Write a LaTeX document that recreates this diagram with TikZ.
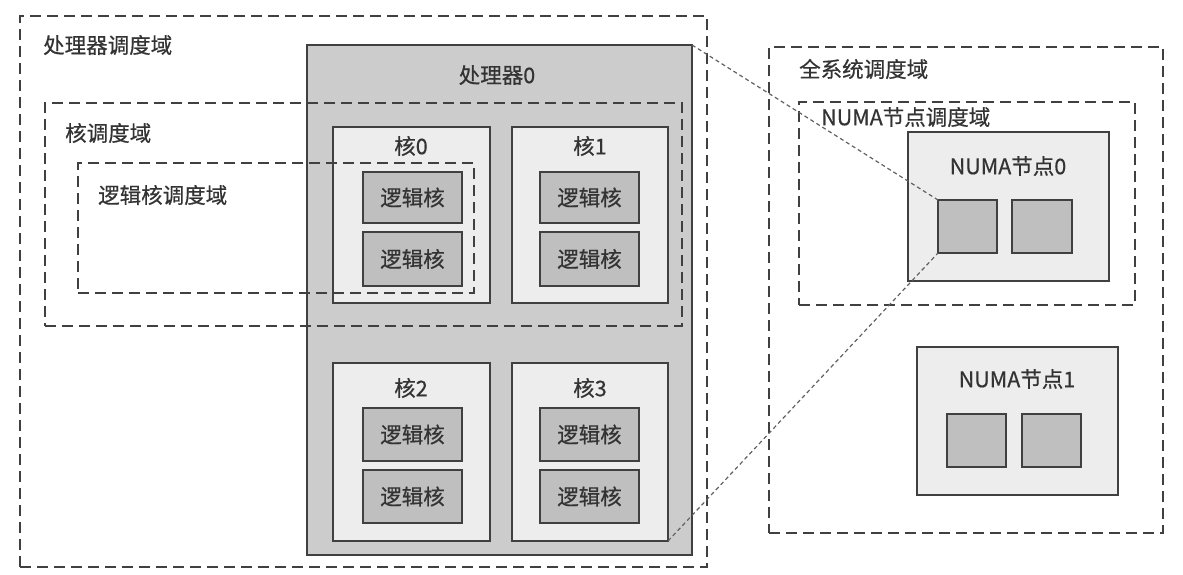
\documentclass[tikz,border=0pt]{standalone}
\usepackage{fontspec}
\setmainfont{Noto Sans CJK SC}[UprightFeatures={FakeBold=0.6}]
\tikzset{
 solidbox/.style={draw=black!75, line width=2pt, inner sep=0pt, outer sep=0pt},
 procbox/.style={solidbox, fill=black!20},
 corebox/.style={solidbox, fill=black!7},
 lcorebox/.style={solidbox, fill=black!25},
 domainbox/.style={draw=black!75, line width=2.4pt, dash pattern=on 11pt off 6pt, inner sep=0pt, outer sep=0pt},
 zoomline/.style={draw=black!62, line width=1.2pt, dash pattern=on 4pt off 3pt},
 lbl/.style={font=\fontsize{21.5}{25}\selectfont, text=black!80, inner sep=0pt},
}
% name, style, x1, y1, x2, y2, text
\newcommand\rbox[7]{\node[#2, minimum width={(#5-#3)*1pt}, minimum height={(#6-#4)*1pt}] (#1) at ({(#3+#5)/2},{(#4+#6)/2}) {#7};}
\begin{document}
\begin{tikzpicture}[x=1pt,y=-1pt]
\useasboundingbox (0,0) rectangle (1183,574);
% processor
\rbox{proc}{procbox}{307}{45}{692}{555}{}
\node[lbl] (proclbl) at (497,75) {处理器0};
% cores
\rbox{c0}{corebox}{333}{127}{490}{303}{}
\rbox{c1}{corebox}{512}{127}{668}{303}{}
\rbox{c2}{corebox}{333}{363}{490}{541}{}
\rbox{c3}{corebox}{512}{363}{668}{541}{}
\node[lbl] (c0l) at (411,146) {核0};
\node[lbl] (c1l) at (590,146) {核1};
\node[lbl] (c2l) at (411,388) {核2};
\node[lbl] (c3l) at (590,388) {核3};
% logical cores
\rbox{l0a}{lcorebox,lbl}{363}{172}{462}{223}{逻辑核}
\rbox{l0b}{lcorebox,lbl}{363}{232}{462}{286}{逻辑核}
\rbox{l1a}{lcorebox,lbl}{540}{172}{639}{223}{逻辑核}
\rbox{l1b}{lcorebox,lbl}{540}{232}{639}{286}{逻辑核}
\rbox{l2a}{lcorebox,lbl}{363}{408}{462}{461}{逻辑核}
\rbox{l2b}{lcorebox,lbl}{363}{470}{462}{523}{逻辑核}
\rbox{l3a}{lcorebox,lbl}{540}{408}{639}{461}{逻辑核}
\rbox{l3b}{lcorebox,lbl}{540}{470}{639}{523}{逻辑核}
% NUMA nodes
\rbox{n0}{corebox}{908}{132}{1109}{281}{}
\node[lbl] (n0l) at (1008,166) {NUMA节点0};
\rbox{n0a}{lcorebox}{938}{200}{997}{253}{}
\rbox{n0b}{lcorebox}{1012}{200}{1072}{253}{}
\rbox{n1}{corebox}{917}{347}{1118}{495}{}
\node[lbl] (n1l) at (1017,379) {NUMA节点1};
\rbox{n1a}{lcorebox}{947}{414}{1006}{467}{}
\rbox{n1b}{lcorebox}{1022}{414}{1081}{467}{}
% domains
\rbox{dproc}{domainbox}{20}{16}{707}{567}{}
\rbox{dcore}{domainbox}{45}{103}{682}{326}{}
\rbox{dlog}{domainbox}{78}{163}{474}{293}{}
\rbox{dsys}{domainbox}{769}{47}{1163}{533}{}
\rbox{dnuma}{domainbox}{799}{102}{1135}{305}{}
\node[lbl, anchor=west] (dprocl) at (43,45) {处理器调度域};
\node[lbl, anchor=west] (dcorel) at (65,133) {核调度域};
\node[lbl, anchor=west] (dlogl) at (98,195) {逻辑核调度域};
\node[lbl, anchor=west] (dsysl) at (799,69) {全系统调度域};
\node[lbl, anchor=west] (dnumal) at (821,117) {NUMA节点调度域};
% zoom lines
\draw[zoomline] (proc.north east) -- (n0a.north west);
\draw[zoomline] (c3.south east) -- (n0a.south west);
\end{tikzpicture}
\end{document}
